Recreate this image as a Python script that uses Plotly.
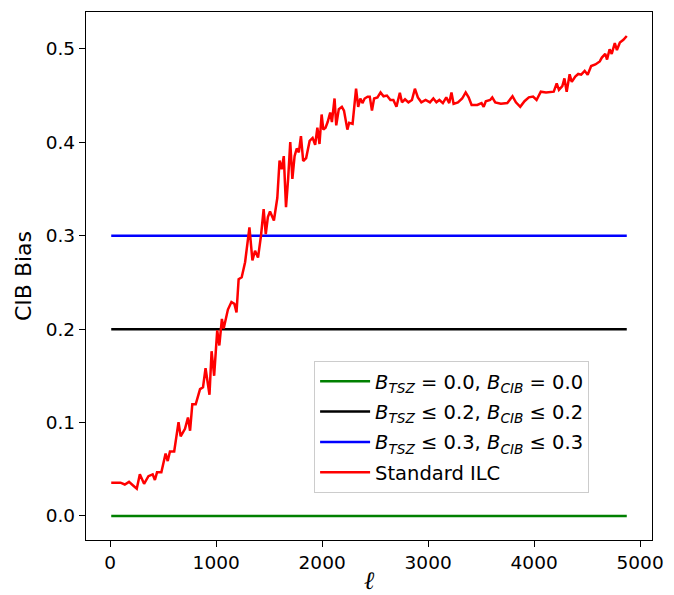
import plotly.graph_objects as go

# Multipole values and CIB bias of the standard ILC
ell = [10, 97, 138, 178, 219, 251, 280, 320, 361, 401, 422, 442, 483, 523, 543, 564,
       604, 645, 665, 706, 734, 754, 775, 807, 848, 876, 900, 937, 957, 981, 1010,
       1030, 1054, 1071, 1111, 1144, 1172, 1192, 1212, 1241, 1273, 1314, 1342, 1367,
       1395, 1423, 1448, 1468, 1488, 1508, 1545, 1577, 1598, 1618, 1638, 1659, 1679,
       1699, 1719, 1740, 1760, 1780, 1800, 1821, 1849, 1869, 1882, 1910, 1934, 1955,
       1975, 1995, 2011, 2032, 2052, 2076, 2092, 2117, 2133, 2157, 2186, 2206, 2238,
       2255, 2287, 2320, 2340, 2360, 2380, 2401, 2429, 2449, 2470, 2490, 2522, 2551,
       2579, 2611, 2644, 2672, 2701, 2733, 2753, 2782, 2814, 2847, 2875, 2903, 2936,
       2976, 3017, 3049, 3078, 3106, 3139, 3171, 3199, 3220, 3240, 3281, 3321, 3354,
       3382, 3410, 3463, 3504, 3524, 3544, 3585, 3605, 3633, 3686, 3747, 3796, 3828,
       3869, 3909, 3950, 3990, 4023, 4063, 4112, 4152, 4185, 4213, 4234, 4266, 4286,
       4307, 4335, 4355, 4388, 4416, 4444, 4477, 4505, 4538, 4578, 4619, 4639, 4671,
       4688, 4712, 4732, 4761, 4781, 4809, 4842, 4874]

standard_ilc = [0.0357, 0.0357, 0.0337, 0.0365, 0.0324, 0.0292, 0.0446, 0.0345, 0.0426,
                0.0446, 0.0385, 0.0467, 0.0467, 0.0669, 0.0588, 0.0690, 0.0690, 0.1005,
                0.0852, 0.0933, 0.1054, 0.0913, 0.1196, 0.1196, 0.1358, 0.1379, 0.1582,
                0.1298, 0.1764, 0.1501, 0.1987, 0.1825, 0.2109, 0.2007, 0.2210, 0.2291,
                0.2271, 0.2178, 0.2535, 0.2555, 0.2717, 0.3090, 0.2737, 0.2839, 0.2766,
                0.3000, 0.3285, 0.3017, 0.3200, 0.3260, 0.3163, 0.3406, 0.3804, 0.3711,
                0.3852, 0.3305, 0.3609, 0.4002, 0.3609, 0.3852, 0.3934, 0.3893, 0.4067,
                0.3800, 0.3832, 0.3974, 0.4015, 0.4047, 0.3974, 0.4156, 0.3982, 0.4298,
                0.4136, 0.4156, 0.4217, 0.4319, 0.4217, 0.4469, 0.4181, 0.4355, 0.4380,
                0.4339, 0.4136, 0.4209, 0.4197, 0.4574, 0.4380, 0.4469, 0.4420, 0.4469,
                0.4489, 0.4489, 0.4339, 0.4469, 0.4481, 0.4534, 0.4493, 0.4501, 0.4453,
                0.4453, 0.4380, 0.4530, 0.4428, 0.4461, 0.4428, 0.4453, 0.4574, 0.4481,
                0.4428, 0.4453, 0.4428, 0.4469, 0.4428, 0.4453, 0.4420, 0.4481, 0.4420,
                0.4534, 0.4412, 0.4428, 0.4469, 0.4534, 0.4481, 0.4400, 0.4400, 0.4420,
                0.4380, 0.4440, 0.4453, 0.4481, 0.4428, 0.4412, 0.4420, 0.4493, 0.4428,
                0.4380, 0.4440, 0.4481, 0.4489, 0.4453, 0.4542, 0.4534, 0.4542, 0.4542,
                0.4631, 0.4562, 0.4602, 0.4684, 0.4542, 0.4728, 0.4647, 0.4704, 0.4732,
                0.4724, 0.4765, 0.4724, 0.4817, 0.4834, 0.4866, 0.4907, 0.4947, 0.4886,
                0.4996, 0.4947, 0.5061, 0.4988, 0.5069, 0.5097, 0.5138]

# Constrained ILC: bias held at the imposed bound
bias_00 = [0.0] * len(ell)
bias_02 = [0.2] * len(ell)
bias_03 = [0.3] * len(ell)

labels = [
    "<i>B</i><sub><i>TSZ</i></sub> = 0.0, <i>B</i><sub><i>CIB</i></sub> = 0.0",
    "<i>B</i><sub><i>TSZ</i></sub> ≤ 0.2, <i>B</i><sub><i>CIB</i></sub> ≤ 0.2",
    "<i>B</i><sub><i>TSZ</i></sub> ≤ 0.3, <i>B</i><sub><i>CIB</i></sub> ≤ 0.3",
    "Standard ILC",
]
colors = ["#008000", "#000000", "#0000ff", "#ff0000"]
series = [bias_00, bias_02, bias_03, standard_ilc]

fig = go.Figure()
for i, (name, col, ys) in enumerate(zip(labels, colors, series)):
    fig.add_trace(go.Scatter(x=ell, y=ys, mode="lines", name=name,
                             legendgroup=f"g{i}",
                             line=dict(color=col, width=2.5)))

axis_common = dict(
    showgrid=False, zeroline=False, showline=True, mirror=True,
    linecolor="black", linewidth=1.3, ticks="outside", ticklen=6,
    tickwidth=1.3, tickcolor="black", automargin=False,
    tickfont=dict(family="DejaVu Sans", size=18.5, color="black"),
)

fig.update_layout(
    width=674, height=595,
    margin=dict(l=86, r=22, t=12, b=55),
    plot_bgcolor="white", paper_bgcolor="white",
    font=dict(family="DejaVu Sans", color="black"),
    xaxis=dict(range=[-228, 5112], tickvals=[0, 1000, 2000, 3000, 4000, 5000],
               title=dict(text="<i>ℓ</i>", font=dict(size=25, family="DejaVu Serif"),
                          standoff=2),
               **axis_common),
    yaxis=dict(range=[-0.0257, 0.5395], tickvals=[0.0, 0.1, 0.2, 0.3, 0.4, 0.5],
               ticktext=["0.0", "0.1", "0.2", "0.3", "0.4", "0.5"],
               title=dict(text="CIB Bias", font=dict(size=22), standoff=8),
               **axis_common),
    legend=dict(x=0.403, y=0.339, xanchor="left", yanchor="top",
                bgcolor="rgba(255,255,255,0.8)", bordercolor="#cccccc", borderwidth=1,
                font=dict(size=19.5, family="DejaVu Sans"), tracegroupgap=2,
                itemwidth=50),
    showlegend=True,
)

fig.write_html("out.html")
